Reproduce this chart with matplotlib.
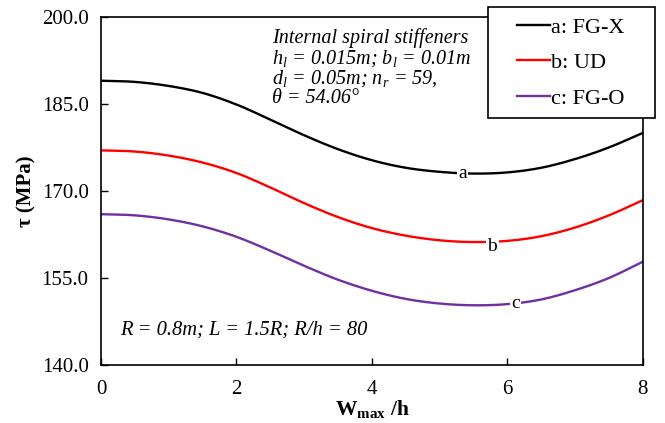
import numpy as np
import matplotlib
matplotlib.use("Agg")
import matplotlib.pyplot as plt
from matplotlib.patches import Rectangle

plt.rcParams['font.family'] = ['Liberation Serif', 'DejaVu Serif']
plt.rcParams['mathtext.fontset'] = 'custom'
plt.rcParams['mathtext.rm'] = 'Liberation Serif'
plt.rcParams['mathtext.it'] = 'Liberation Serif:italic'
plt.rcParams['mathtext.bf'] = 'Liberation Serif:bold'

# data
w_h = [0, 0.5, 1, 1.5, 2, 2.5, 3, 3.5, 4, 4.5, 5, 5.5, 6, 6.5, 7, 7.5, 8]
tau_fgx = [189.0, 188.8, 188.1, 186.9, 184.9, 182.3, 179.6, 177.2, 175.3,
           174.0, 173.3, 173.0, 173.2, 174.0, 175.5, 177.5, 180.0]
tau_ud = [177.0, 176.8, 176.1, 174.9, 173.1, 170.6, 167.9, 165.5, 163.6,
          162.3, 161.5, 161.2, 161.4, 162.2, 163.7, 165.8, 168.4]
tau_fgo = [166.0, 165.8, 165.1, 163.9, 162.1, 159.7, 157.1, 154.7, 152.8,
           151.4, 150.6, 150.3, 150.5, 151.3, 152.9, 155.0, 157.8]

labels = ["a: FG-X", "b: UD", "c: FG-O"]
tags = ["a", "b", "c"]
tag_pos = [(5.34, 173.0), (5.78, 160.5), (6.12, 150.6)]
colors = ["black", "#ff0000", "#7030a0"]

yticks = [140, 155, 170, 185, 200]
xticks = [0, 2, 4, 6, 8]


def hermite(x, y, n=20):
    """Smooth curve through the points (cubic Hermite, finite-difference slopes)."""
    x = np.asarray(x, float)
    y = np.asarray(y, float)
    m = np.gradient(y, x)
    xs, ys = [], []
    for i in range(len(x) - 1):
        h = x[i + 1] - x[i]
        t = np.linspace(0, 1, n, endpoint=False)
        h00 = 2 * t**3 - 3 * t**2 + 1
        h10 = t**3 - 2 * t**2 + t
        h01 = -2 * t**3 + 3 * t**2
        h11 = t**3 - t**2
        xs.append(x[i] + t * h)
        ys.append(h00 * y[i] + h10 * h * m[i] + h01 * y[i + 1] + h11 * h * m[i + 1])
    xs.append([x[-1]])
    ys.append([y[-1]])
    return np.concatenate(xs), np.concatenate(ys)


W, H = 665, 423
fig = plt.figure(figsize=(W / 100, H / 100), dpi=100)
ax = fig.add_axes([0.152, 0.137, 0.8145, 0.823])

lines = []
for ys, c, lab in zip([tau_fgx, tau_ud, tau_fgo], colors, labels):
    sx, sy = hermite(w_h, ys)
    ln, = ax.plot(sx, sy, color=c, lw=1.7, label=lab)
    lines.append(ln)

for t, (tx, ty) in zip(tags, tag_pos):
    ax.text(tx, ty, t, fontsize=14, ha='center', va='center',
            bbox=dict(facecolor='white', edgecolor='none', pad=1.0))

ax.set_xlim(0, 8)
ax.set_ylim(140, 200)
ax.set_xticks(xticks)
ax.set_yticks(yticks)
ax.set_yticklabels(["%.1f" % v for v in yticks])
ax.tick_params(direction='in', length=5, width=1, labelsize=15)
ax.tick_params(axis='x', pad=11)
ax.tick_params(axis='y', pad=9)
for s in ax.spines.values():
    s.set_linewidth(1.2)

ax.set_xlabel(r"W$_{\mathbf{max}}$ /h", fontsize=15.5, fontweight='bold', labelpad=-1)
ax.set_ylabel(u"\u03c4 (MPa)", fontsize=15, fontweight='bold', labelpad=4)

ax.text(0.315, 0.968,
        "Internal spiral stiffeners\n"
        "h$_l$ = 0.015m; b$_l$ = 0.01m\n"
        "d$_l$ = 0.05m; n$_r$ = 59,\n"
        u"\u03b8 = 54.06\u00b0",
        transform=ax.transAxes, fontsize=14.5, fontstyle='italic',
        va='top', ha='left', linespacing=1.0)
ax.text(0.035, 0.10, "R = 0.8m; L = 1.5R; R/h = 80", transform=ax.transAxes,
        fontsize=14.8, fontstyle='italic', va='center', ha='left')

# legend box sticks out past the axes at top right
box = Rectangle((488 / W, 1 - 118 / H), (655 - 488) / W, (118 - 7) / H,
                transform=fig.transFigure, facecolor='white', edgecolor='black',
                lw=1.2, zorder=5)
fig.patches.append(box)
leg = fig.legend(handles=lines, loc='upper left',
                 bbox_to_anchor=(517 / W, 1 - 17 / H),
                 fontsize=16, frameon=False,
                 handlelength=1.5, handletextpad=0.05, labelspacing=0.68,
                 borderpad=0, borderaxespad=0)
leg.set_zorder(6)

fig.savefig("out.png", dpi=100)
